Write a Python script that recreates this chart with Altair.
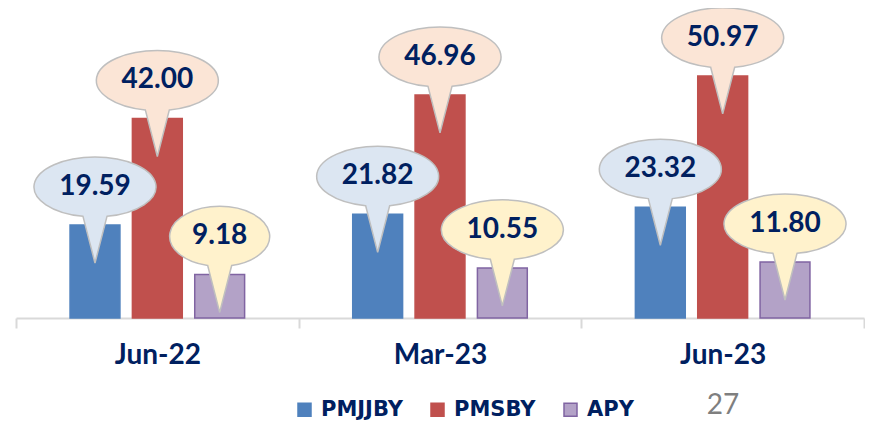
import altair as alt
import pandas as pd

categories = ["Jun-22", "Mar-23", "Jun-23"]
series = ["PMJJBY", "PMSBY", "APY"]
pmjjby = [19.59, 21.82, 23.32]
pmsby = [42.00, 46.96, 50.97]
apy = [9.18, 10.55, 11.80]
page_number = "27"

bar_colors = ["#4F81BD", "#C0504D", "#B3A2C7"]
bar_strokes = ["#4F81BD", "#C0504D", "#8064A2"]
bubble_colors = ["#DCE6F2", "#FBE5D6", "#FFF2CC"]
navy = "#002060"

rows = []
for i, c in enumerate(categories):
    for s, vals in zip(series, [pmjjby, pmsby, apy]):
        rows.append({"cat": c, "series": s, "value": vals[i], "label": f"{vals[i]:.2f}"})
df = pd.DataFrame(rows)

# callout shapes: origin at bar top, ellipse centre 38px above, tail tip 38px below
wide_bubble = "M-12,-8.6A61,30,0,1,1,12,-8.6L0,38Z"
narrow_bubble = "M-12,-8.9A50,30,0,1,1,12,-8.9L0,38Z"

base = alt.Chart(df).encode(
    x=alt.X(
        "cat:N",
        sort=categories,
        scale=alt.Scale(paddingInner=0, paddingOuter=0),
        axis=alt.Axis(
            title=None, labelAngle=0, domainColor="#D9D9D9", domainWidth=2,
            tickColor="#D9D9D9", tickWidth=2, tickSize=10, tickBand="extent",
            labelFont="Lato", labelFontSize=28, labelFontWeight="bold",
            labelColor=navy, labelPadding=13,
        ),
    ),
    xOffset=alt.XOffset("series:N", sort=series,
                        scale=alt.Scale(paddingInner=0.2, paddingOuter=0.867)),
    y=alt.Y("value:Q", scale=alt.Scale(domain=[0, 65.26], nice=False), axis=None),
)

legend = alt.Legend(
    title=None, orient="none", legendX=278, legendY=391, direction="horizontal",
    symbolType="square", symbolSize=169, symbolStrokeWidth=1.5,
    labelFont="DejaVu Sans", labelFontSize=21, labelFontWeight="bold",
    labelColor=navy, labelOffset=6, columnPadding=24, padding=0,
)

bars = base.mark_bar(strokeWidth=1.5).encode(
    color=alt.Color("series:N", sort=series,
                    scale=alt.Scale(domain=series, range=bar_colors), legend=legend),
    stroke=alt.Stroke("series:N", sort=series,
                      scale=alt.Scale(domain=series, range=bar_strokes), legend=legend),
)

bubble_fill = alt.Fill("series:N", scale=alt.Scale(domain=series, range=bubble_colors), legend=None)

bub_wide = base.transform_filter("length(datum.label) == 5").mark_point(
    shape=wide_bubble, size=4, filled=True, opacity=1, stroke="#BFBFBF", strokeWidth=1.5
).encode(fill=bubble_fill)

bub_narrow = base.transform_filter("length(datum.label) == 4").mark_point(
    shape=narrow_bubble, size=4, filled=True, opacity=1, stroke="#BFBFBF", strokeWidth=1.5
).encode(fill=bubble_fill)

texts = base.mark_text(
    dy=-38, font="Lato", fontSize=28, fontWeight="bold", color=navy, baseline="middle"
).encode(text="label:N")

page = alt.Chart(pd.DataFrame({"t": [page_number]})).mark_text(
    font="Lato", fontSize=28, color="#7F7F7F"
).encode(text="t:N", x=alt.value(707), y=alt.value(398))

chart = alt.layer(bars, bub_wide, bub_narrow, texts, page).properties(
    width=848, height=310, autosize="none",
    padding={"left": 8, "top": 0, "right": 1, "bottom": 104},
).configure_view(stroke=None)

chart.save("out.html", embed_options={"renderer": "svg", "actions": False})
